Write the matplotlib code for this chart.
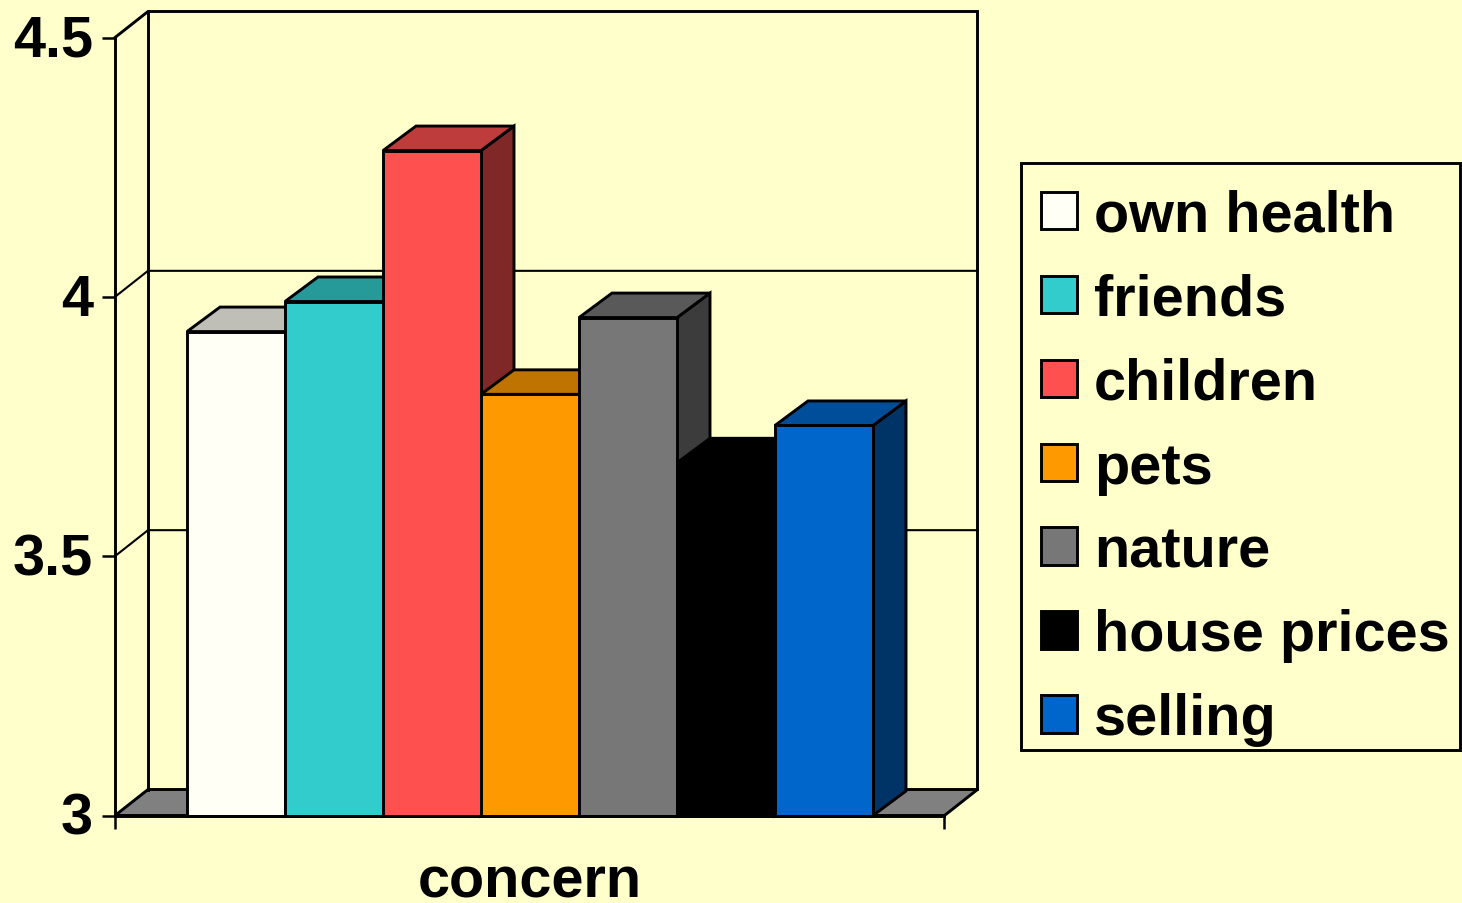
import matplotlib
matplotlib.use("Agg")
import matplotlib.pyplot as plt
from matplotlib.patches import Patch, Polygon, Rectangle
from matplotlib.colors import to_rgb
from matplotlib.transforms import ScaledTranslation

categories = ["own health", "friends", "children", "pets", "nature", "house prices", "selling"]
values = [3.933, 3.991, 4.282, 3.812, 3.960, 3.680, 3.752]
colors = ["#FFFFF5", "#33CCCC", "#FF5050", "#FF9900", "#777777", "#000000", "#0066CC"]
y_ticks = [3, 3.5, 4, 4.5]
y_tick_labels = ["3", "3.5", "4", "4.5"]
x_label = "concern"

BG = "#FFFFCC"
W, H = 1462, 904
FS = 41.5
plt.rcParams["font.family"] = ["Liberation Sans", "DejaVu Sans"]
plt.rcParams["font.weight"] = "bold"

fig = plt.figure(figsize=(W / 100, H / 100), dpi=100, facecolor=BG)
L, R, T, B = 115.0, 944.5, 38.5, 816.5
ax = fig.add_axes([L / W, 1 - B / H, (R - L) / W, (B - T) / H])
ax.set_facecolor("none")
for s in ax.spines.values():
    s.set_visible(False)

XMIN, XMAX = -1.2347, 7.2296
ax.set_xlim(XMIN, XMAX)
ax.set_ylim(3, 4.5)

LW = 2.1
DX = 33 / 98.0          # depth in x data units
DY_WALL = 26 / 518.7    # depth in y data units
DY_BAR = 24.5 / 518.7
base = 3.0
top = 4.5


def line(xs, ys, lw=LW, z=1):
    ax.plot(xs, ys, color="black", lw=lw, clip_on=False, zorder=z,
            solid_capstyle="projecting", solid_joinstyle="miter")


# floor
ax.add_patch(Polygon([(XMIN, base), (XMAX, base), (XMAX + DX, base + DY_WALL), (XMIN + DX, base + DY_WALL)],
                     closed=True, facecolor="#808080", edgecolor="black", lw=LW, clip_on=False, zorder=1))
# walls
line([XMIN, XMIN + DX, XMAX + DX, XMAX + DX], [top, top + DY_WALL, top + DY_WALL, base + DY_WALL])
line([XMIN + DX, XMIN + DX], [base + DY_WALL, top + DY_WALL])
line([XMIN, XMIN], [base, top])
# gridlines
for v in y_ticks[1:-1]:
    line([XMIN, XMIN + DX, XMAX + DX], [v, v + DY_WALL, v + DY_WALL], lw=1.5)


def shade(c, f):
    return tuple(f * a for a in to_rgb(c))


# bars
z = 3
for i, (v, c) in enumerate(zip(values, colors)):
    x0, x1 = i - 0.5, i + 0.5
    ax.add_patch(Polygon([(x1, base), (x1 + DX, base + DY_BAR), (x1 + DX, v + DY_BAR), (x1, v)], closed=True,
                         facecolor=shade(c, 0.5), edgecolor="black", lw=LW, clip_on=False,
                         joinstyle="miter", zorder=z))
    ax.add_patch(Polygon([(x0, v), (x1, v), (x1 + DX, v + DY_BAR), (x0 + DX, v + DY_BAR)], closed=True,
                         facecolor=shade(c, 0.75), edgecolor="black", lw=LW, clip_on=False,
                         joinstyle="miter", zorder=z))
    ax.bar(i, v - base, bottom=base, width=1.0, color=c, edgecolor="black", lw=LW, clip_on=False, zorder=z + 1)
    z += 2

line([XMIN, XMAX], [base, base], z=z)

# ticks and labels
ax.set_yticks(y_ticks)
ax.set_yticklabels(y_tick_labels, fontsize=FS, fontweight="bold")
ax.set_xticks([XMIN, XMAX])
ax.set_xticklabels(["", ""])
ax.tick_params(axis="both", length=9.5, width=1.8, color="black")
ax.tick_params(axis="y", pad=6.5)
shift = ScaledTranslation(0, 2.0 / 72, fig.dpi_scale_trans)
for t in ax.get_yticklabels():
    t.set_transform(t.get_transform() + shift)
ax.set_xlabel(x_label, fontsize=FS, fontweight="bold")
ax.xaxis.label.set_va("baseline")
ax.xaxis.set_label_coords(0.5, -0.104)

# legend box, then entries
fig.add_artist(Rectangle((1021 / W, 1 - 751 / H), (1460 - 1021) / W, (751 - 164) / H, transform=fig.transFigure,
                         facecolor=BG, edgecolor="black", lw=LW))
handles = [Patch(facecolor=c, edgecolor="black", lw=LW, label=n) for n, c in zip(categories, colors)]
leg = fig.legend(handles=handles, loc="upper left", bbox_to_anchor=(1040.5 / W, 1 - 190 / H),
                 bbox_transform=fig.transFigure, fontsize=FS, frameon=False, borderaxespad=0,
                 handlelength=0.625, handleheight=0.625, handletextpad=0.30,
                 labelspacing=0.518, borderpad=0)

fig.savefig("out.png", dpi=100, facecolor=BG)
